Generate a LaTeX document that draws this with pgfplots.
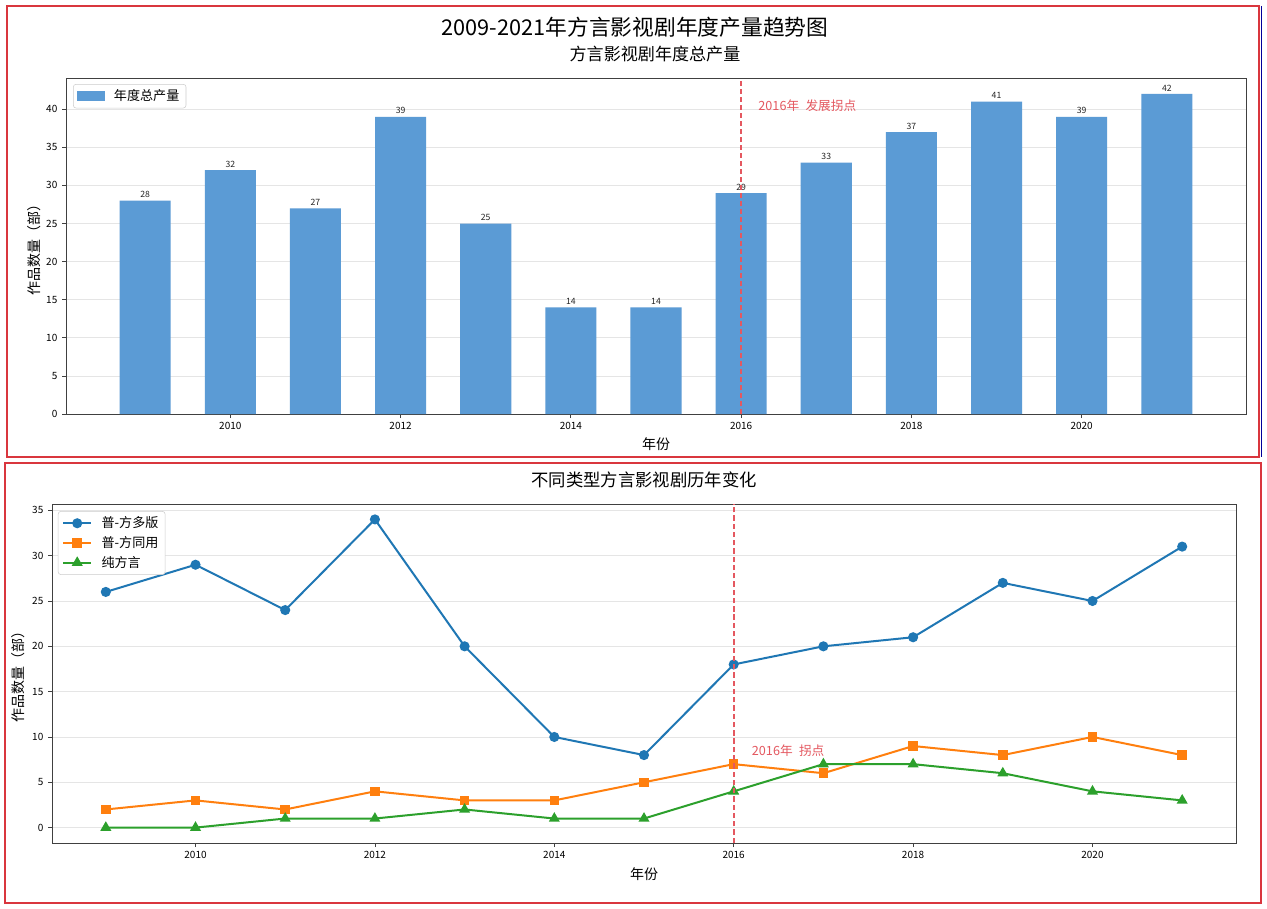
\documentclass[border=0pt]{standalone}
\usepackage{fontspec}
\setmainfont{Noto Sans CJK SC}
\usepackage{pgfplots}
\pgfplotsset{compat=1.18}
\definecolor{barblue}{HTML}{5B9BD5}
\definecolor{tabblue}{HTML}{1F77B4}
\definecolor{taborange}{HTML}{FF7F0E}
\definecolor{tabgreen}{HTML}{2CA02C}
\definecolor{framered}{HTML}{D9363E}
\definecolor{lred}{RGB}{228,88,96}
\begin{document}
\begin{tikzpicture}
\begin{scope}[x=0.75pt,y=-0.75pt]
\fill[white] (0,0) rectangle (1267,909);
\draw[framered, line width=1.1pt] (7,6) rectangle (1259,457);
\draw[framered, line width=1.1pt] (5,463) rectangle (1261,903);
\draw[blue!60!black, line width=0.6pt] (1261,6) -- (1261,457);
\node[font=\fontsize{16.3}{19}\selectfont] at (635,27) {2009-2021年方言影视剧年度产量趋势图};
\node[font=\fontsize{12.8}{15}\selectfont] at (655,54) {方言影视剧年度总产量};
\node[font=\fontsize{13}{15}\selectfont] at (644,480) {不同类型方言影视剧历年变化};
\end{scope}

\pgfplotsset{
  common/.style={
    scale only axis,
    axis line style={black!75}, tick style={black!75, line width=0.6pt},
    tick align=outside, xtick pos=bottom, ytick pos=left,
    major tick length=3pt,
    ymajorgrids, grid style={black!10, line width=0.6pt},
    ticklabel style={font=\fontsize{7.5}{9}\selectfont},
    /pgf/number format/assume math mode=true,
    /pgf/number format/1000 sep={},
    label style={font=\fontsize{10.5}{12}\selectfont},
    legend cell align=left,
    legend style={font=\fontsize{9.8}{12}\selectfont, draw=black!20, rounded corners=2pt, fill=white, inner xsep=3pt, inner ysep=2pt, row sep=1pt,
      /tikz/every odd column/.append style={column sep=5pt}},
    xtick={2010,2012,...,2020},
  }
}

\begin{axis}[common,
  at={(49.5pt,-310.5pt)}, anchor=south west,
  width=885pt, height=252pt,
  xmin=2008.07, xmax=2021.93, ymin=0, ymax=44.1,
  ytick={0,5,...,40},
  xlabel={年份}, ylabel={作品数量（部）},
  xlabel style={at={(axis description cs:0.5,-0.089)}, anchor=center},
  ylabel style={at={(axis description cs:-0.027,0.5)}, anchor=center},
  legend style={at={(0.006,0.982)}, anchor=north west},
  legend image code/.code={\fill[barblue, sharp corners] (0cm,-0.13cm) rectangle (0.72cm,0.13cm);},
]
\addplot[ybar, bar width=0.6, bar shift=0pt, fill=barblue, draw=none,
  nodes near coords, nodes near coords style={font=\fontsize{6.5}{7}\selectfont, black!85, anchor=south, inner sep=1pt, yshift=1pt}]
  coordinates {(2009,28) (2010,32) (2011,27) (2012,39) (2013,25) (2014,14) (2015,14) (2016,29) (2017,33) (2018,37) (2019,41) (2020,39) (2021,42)};
\addlegendentry{年度总产量}
\coordinate (ta) at (axis cs:2016,0);
\coordinate (tb) at (axis cs:2016,44.1);
\node[text=lred, anchor=west, inner sep=0pt, font=\fontsize{9.5}{11}\selectfont] at (axis cs:2016.2,40.5) {2016年\hspace{0.5em}发展拐点};
\end{axis}

\begin{axis}[common,
  at={(39pt,-632.25pt)}, anchor=south west,
  width=888pt, height=254.25pt,
  xmin=2008.4, xmax=2021.6, ymin=-1.7, ymax=35.7,
  ytick={0,5,...,35},
  xlabel={年份}, ylabel={作品数量（部）},
  xlabel style={at={(axis description cs:0.5,-0.0914)}, anchor=center},
  ylabel style={at={(axis description cs:-0.0287,0.5)}, anchor=center},
  legend style={at={(0.005,0.979)}, anchor=north west},
  legend image code/.code={\draw[mark repeat=2,mark phase=2] plot coordinates {(0cm,0cm) (0.37cm,0cm) (0.74cm,0cm)};},
]
\addplot[tabblue, line width=1.5pt, mark=*, mark size=3pt, mark options={solid}]
  coordinates {(2009,26) (2010,29) (2011,24) (2012,34) (2013,20) (2014,10) (2015,8) (2016,18) (2017,20) (2018,21) (2019,27) (2020,25) (2021,31)};
\addlegendentry{普-方多版}
\addplot[taborange, line width=1.5pt, mark=square*, mark size=2.8pt, mark options={solid}]
  coordinates {(2009,2) (2010,3) (2011,2) (2012,4) (2013,3) (2014,3) (2015,5) (2016,7) (2017,6) (2018,9) (2019,8) (2020,10) (2021,8)};
\addlegendentry{普-方同用}
\addplot[tabgreen, line width=1.5pt, mark=triangle*, mark size=3.3pt, mark options={solid}]
  coordinates {(2009,0) (2010,0) (2011,1) (2012,1) (2013,2) (2014,1) (2015,1) (2016,4) (2017,7) (2018,7) (2019,6) (2020,4) (2021,3)};
\addlegendentry{纯方言}
\coordinate (ba) at (axis cs:2016,-1.7);
\coordinate (bb) at (axis cs:2016,35.7);
\node[text=lred, anchor=west, inner sep=0pt, font=\fontsize{9.5}{11}\selectfont] at (axis cs:2016.2,8.5) {2016年\hspace{0.5em}拐点};
\end{axis}
\draw[draw=lred, line width=1.1pt, dash pattern=on 4pt off 2pt] (ta) -- (tb);
\draw[draw=lred, line width=1.5pt, dash pattern=on 4pt off 2.2pt] (ba) -- (bb);
\end{tikzpicture}
\end{document}
